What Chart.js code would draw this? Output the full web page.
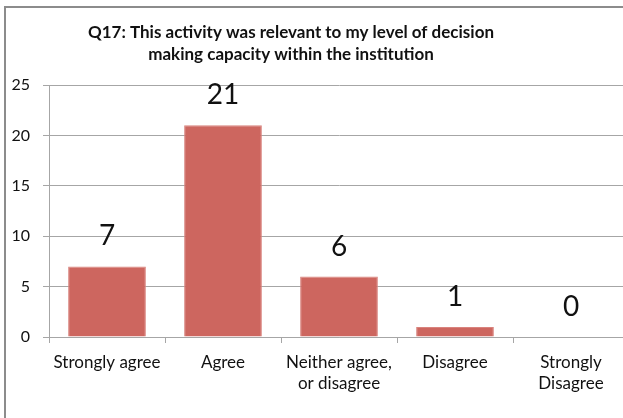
<!DOCTYPE html>
<html>
<head>
<meta charset="utf-8">
<script src="https://cdn.jsdelivr.net/npm/chart.js@4.4.0/dist/chart.umd.min.js"></script>
<style>
  html, body { margin: 0; padding: 0; background: #fff; overflow: hidden; }
  #wrap { width: 640px; height: 418px; }
</style>
</head>
<body>
<div id="wrap"><canvas id="chart" width="640" height="418"></canvas></div>
<script>
const categories = ['Strongly agree', 'Agree', ['Neither agree,', 'or disagree'], 'Disagree', ['Strongly', 'Disagree']];
const responses = [7, 21, 6, 1, 0];
const yTicks = [0, 5, 10, 15, 20, 25];
const titleLines = ['Q17: This activity was relevant to my level of decision', 'making capacity within the institution'];

const FONT = 'Lato, "Open Sans", sans-serif';
const GRID = '#a6a6a6';

// outer frame + title, drawn like the spreadsheet chart box
const frame = {
  id: 'frame',
  beforeDraw(chart) {
    const c = chart.ctx;
    c.save();
    c.fillStyle = '#fff';
    c.fillRect(0, 0, chart.width, chart.height);
    c.strokeStyle = '#8c8c8c';
    c.lineWidth = 2;
    c.strokeRect(5, 7, 700, 500);
    c.restore();
  },
  afterDraw(chart) {
    const c = chart.ctx;
    c.save();
    c.fillStyle = '#111';
    c.font = 'bold 17px ' + FONT;
    c.textAlign = 'center';
    c.textBaseline = 'middle';
    titleLines.forEach((t, i) => c.fillText(t, 291, 33 + i * 22));
    c.restore();
  }
};

const valueLabels = {
  id: 'valueLabels',
  afterDatasetsDraw(chart) {
    const c = chart.ctx;
    const meta = chart.getDatasetMeta(0);
    c.save();
    c.fillStyle = '#111';
    c.font = '28px ' + FONT;
    c.textAlign = 'center';
    c.textBaseline = 'middle';
    meta.data.forEach((bar, i) => c.fillText(String(responses[i]), bar.x, bar.y - 30));
    c.restore();
  }
};

new Chart(document.getElementById('chart'), {
  type: 'bar',
  data: {
    labels: categories,
    datasets: [{
      data: responses,
      backgroundColor: '#cd665f',
      borderColor: '#d9837d',
      borderWidth: 1,
      barPercentage: 0.67,
      categoryPercentage: 1
    }]
  },
  options: {
    responsive: false,
    animation: false,
    layout: { padding: { top: 85, right: 11, left: 0, bottom: 0 } },
    plugins: {
      legend: { display: false },
      tooltip: { enabled: false }
    },
    scales: {
      x: {
        offset: true,
        grid: { offset: true, drawOnChartArea: false, drawTicks: true, tickLength: 6, color: GRID },
        border: { display: true, color: GRID, width: 1 },
        ticks: { font: { family: FONT, size: 17, lineHeight: 1.25 }, color: '#111', padding: 9, maxRotation: 0, autoSkip: false },
        afterFit(s) { s.height = 81; }
      },
      y: {
        min: 0,
        max: 25,
        afterBuildTicks(s) { s.ticks = yTicks.map(v => ({ value: v })); },
        grid: { color: GRID, tickLength: 6 },
        border: { display: true, color: GRID, width: 1 },
        ticks: { font: { family: FONT, size: 16 }, color: '#111', padding: 13 },
        afterFit(s) { s.width = 49; }
      }
    }
  },
  plugins: [frame, valueLabels]
});
</script>
</body>
</html>
